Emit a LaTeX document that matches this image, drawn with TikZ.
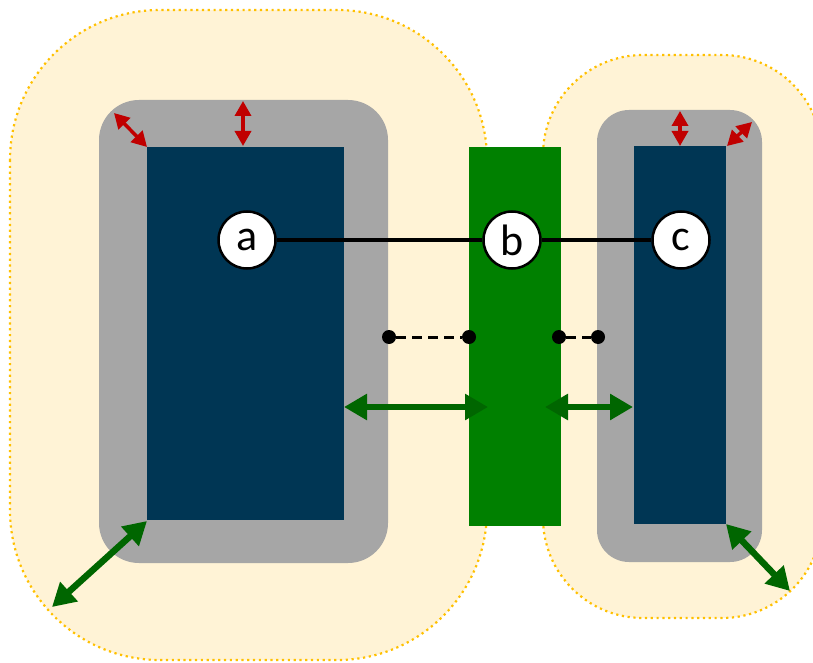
\documentclass[tikz,border=0pt]{standalone}
\usepackage{fontspec}
\setmainfont{Carlito}
\usetikzlibrary{arrows.meta}
\definecolor{yelfill}{HTML}{FFF3D6}
\definecolor{yelline}{HTML}{FFC000}
\definecolor{grayfill}{HTML}{A6A6A6}
\definecolor{bluefill}{HTML}{003654}
\definecolor{greenfill}{HTML}{008000}
\definecolor{arrgreen}{HTML}{006600}
\definecolor{arrred}{HTML}{C00000}
\tikzset{
  zone/.style={fill=yelfill, draw=yelline, line width=2.2pt, dash pattern=on 2.2pt off 3.6pt},
  pad/.style={fill=grayfill},
  core/.style={fill=bluefill},
  bar/.style={fill=greenfill},
  vtx/.style={circle, draw=black, fill=white, line width=2.5pt, minimum size=57pt, inner sep=0pt, font=\fontsize{44}{48}\selectfont},
  link/.style={draw=black, line width=3.5pt},
  dlink/.style={draw=black, line width=3pt, dash pattern=on 10pt off 6pt},
  dotpt/.style={circle, fill=black, minimum size=14pt, inner sep=0pt},
  redarr/.style={draw=arrred, line width=3.5pt, {Triangle[length=15pt,width=16pt]}-{Triangle[length=15pt,width=16pt]}},
  grnarr/.style={draw=arrgreen, line width=6.5pt, {Triangle[length=23pt,width=25pt]}-{Triangle[length=23pt,width=25pt]}},
}
\begin{document}
\begin{tikzpicture}[x=1pt,y=-1pt]
\useasboundingbox (0,0) rectangle (813,663);
\clip (0,0) rectangle (813,663);
% yellow zones
\draw[zone, rounded corners=150pt] (10,10) rectangle (487,660);
\draw[zone, rounded corners=100pt] (543,55) rectangle (822,618);
% gray pads
\fill[pad, rounded corners=40pt] (99,100) rectangle (388,563);
\fill[pad, rounded corners=32pt] (597,110) rectangle (762,562);
% cores
\path[core] (147,147) rectangle (344,520);
\path[core] (634,146) rectangle (726,524);
% green bar
\path[bar] (469,147) rectangle (561,526);
% coordinates
\coordinate (lcTL) at (147,147);
\coordinate (lcBL) at (147,521);
\coordinate (rcTR) at (727,146);
\coordinate (rcBR) at (726,524);
\coordinate (lpT) at (243,101);
\coordinate (lcT) at (243,146);
\coordinate (lpC) at (114,113);
\coordinate (rpT) at (680,111);
\coordinate (rcT) at (680,146);
\coordinate (rpC) at (752,122);
\coordinate (lzC) at (52,607);
\coordinate (rzC) at (790,591);
\coordinate (g1a) at (344,407);
\coordinate (g1b) at (488,407);
\coordinate (g2a) at (545,407);
\coordinate (g2b) at (633,407);
% dashed links with dots
\node[dotpt] (d1) at (389,337) {};
\node[dotpt] (d2) at (469,337) {};
\node[dotpt] (d3) at (559,337) {};
\node[dotpt] (d4) at (598,337) {};
\draw[dlink] (d1) -- (d2);
\draw[dlink] (d3) -- (d4);
% vertices
\node[vtx] (a) at (247,240) {a};
\node[vtx] (b) at (512,240) {b};
\node[vtx] (c) at (681,240) {c};
\draw[link] (a) -- (b);
\draw[link] (b) -- (c);
% red arrows
\draw[redarr] (lpT) -- (lcT);
\draw[redarr] (lpC) -- (lcTL);
\draw[redarr] (rpT) -- (rcT);
\draw[redarr] (rpC) -- (rcTR);
% green arrows
\draw[grnarr] (g1a) -- (g1b);
\draw[grnarr] (g2a) -- (g2b);
\draw[grnarr] (lcBL) -- (lzC);
\draw[grnarr] (rcBR) -- (rzC);
\end{tikzpicture}
\end{document}
